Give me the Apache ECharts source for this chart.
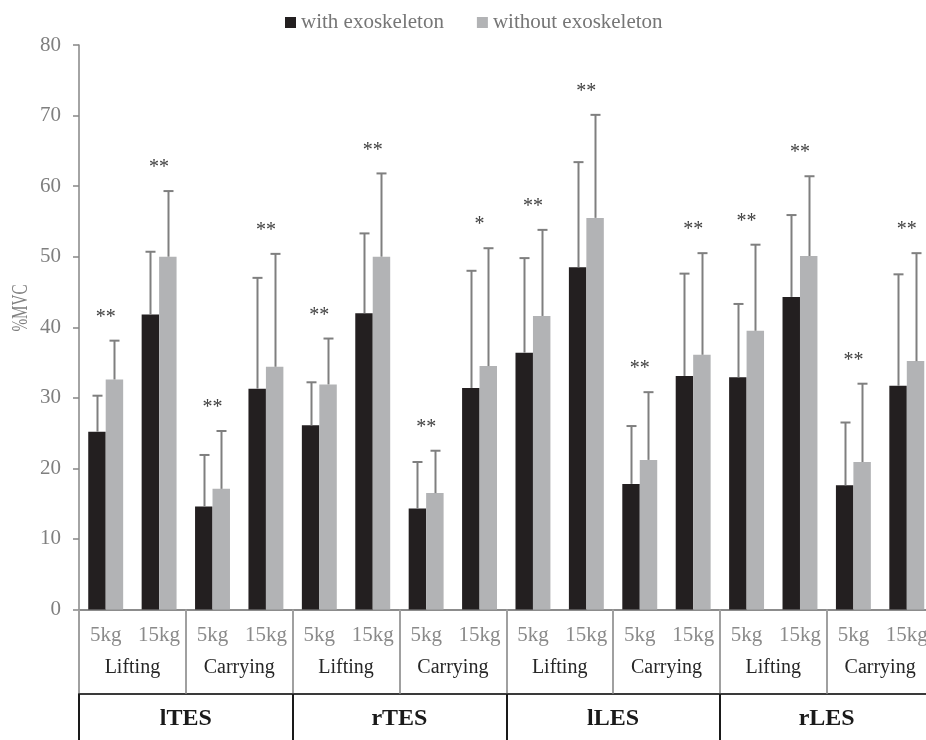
<!DOCTYPE html>
<html>
<head>
<meta charset="utf-8">
<title>%MVC with and without exoskeleton</title>
<script src="https://cdn.jsdelivr.net/npm/echarts@6/dist/echarts.min.js"></script>
<style>
  html, body { margin: 0; padding: 0; background: #fff; overflow: hidden; }
  /* the outer table border runs just past the right edge of the page */
  #chart { width: 945px; height: 740px; }
</style>
</head>
<body>
<div id="chart"></div>
<script>
// Load conditions (innermost axis level)
const loads = ['5kg', '15kg', '5kg', '15kg', '5kg', '15kg', '5kg', '15kg',
               '5kg', '15kg', '5kg', '15kg', '5kg', '15kg', '5kg', '15kg'];
// Tasks (middle axis level)
const tasks = ['Lifting', 'Carrying', 'Lifting', 'Carrying',
               'Lifting', 'Carrying', 'Lifting', 'Carrying'];
// Muscles (outer axis level)
const muscles = ['lTES', 'rTES', 'lLES', 'rLES'];

// Mean %MVC and standard deviation
const withExo     = [25.2, 41.8, 14.6, 31.3, 26.1, 42.0, 14.3, 31.4, 36.4, 48.5, 17.8, 33.1, 32.9, 44.3, 17.6, 31.7];
const withExoSD   = [5.1, 8.9, 7.3, 15.7, 6.1, 11.3, 6.6, 16.6, 13.4, 14.9, 8.2, 14.5, 10.4, 11.6, 8.9, 15.8];
const withoutExo  = [32.6, 50.0, 17.1, 34.4, 31.9, 50.0, 16.5, 34.5, 41.6, 55.5, 21.2, 36.1, 39.5, 50.1, 20.9, 35.2];
const withoutExoSD = [5.5, 9.3, 8.2, 16.0, 6.5, 11.8, 6.0, 16.7, 12.2, 14.6, 9.6, 14.4, 12.2, 11.3, 11.1, 15.3];

// Significance markers
const signif = ['**', '**', '**', '**', '**', '**', '**', '*',
                '**', '**', '**', '**', '**', '**', '**', '**'];

const yTicks = { min: 0, max: 80, step: 10 };

const FONT = '"Liberation Serif", "Times New Roman", serif';
const BAR_RATIO = 0.327;            // each bar's share of a category band
const COL_WITH = '#231f20';
const COL_WITHOUT = '#b2b3b5';
const ERR_COL = '#7f7f7f';

const chart = echarts.init(document.getElementById('chart'), null, { renderer: 'canvas' });

function renderErrors(params, api) {
  const i = api.value(0);
  const band = api.size([1, 0])[0];
  const half = band * BAR_RATIO / 2;
  const cx = api.coord([i, 0])[0];
  const children = [];
  const sets = [[withExo, withExoSD, -half], [withoutExo, withoutExoSD, half]];
  let highest = 0;
  sets.forEach(function (s) {
    const mean = s[0][i], sd = s[1][i];
    highest = Math.max(highest, mean + sd);
    const yBase = api.coord([i, mean])[1];
    const yTop = api.coord([i, mean + sd])[1];
    const x = Math.round(cx + s[2]) + 0.5;
    children.push({ type: 'line', shape: { x1: x, y1: yBase, x2: x, y2: yTop },
                    style: { stroke: ERR_COL, lineWidth: 2 } });
    children.push({ type: 'line', shape: { x1: x - 5, y1: yTop, x2: x + 5, y2: yTop },
                    style: { stroke: ERR_COL, lineWidth: 2 } });
  });
  const yStar = api.coord([i, highest])[1] - 23;
  children.push({ type: 'text', x: cx, y: yStar,
                  style: { text: signif[i], font: '20px ' + FONT, fill: '#404040',
                           align: 'center', verticalAlign: 'middle' } });
  return { type: 'group', children: children };
}

const option = {
  animation: false,
  backgroundColor: '#ffffff',
  textStyle: { fontFamily: FONT },
  legend: {
    left: 280, top: 7,
    itemWidth: 11, itemHeight: 11, itemGap: 33,
    icon: 'rect',
    textStyle: { fontFamily: FONT, fontSize: 21, color: '#767676' },
    data: ['with exoskeleton', 'without exoskeleton']
  },
  grid: { left: 79, top: 45, width: 854.5, bottom: 130.5, containLabel: false },
  graphic: [{
    type: 'text', x: 21, y: 308, rotation: Math.PI / 2, scaleX: 0.66,
    style: { text: '%MVC', font: '23px ' + FONT, fill: '#7f7f7f',
             align: 'center', verticalAlign: 'middle' }
  }],
  xAxis: [
    {
      type: 'category', data: loads, position: 'bottom',
      axisLine: { show: true, lineStyle: { color: '#8c8c8c', width: 2 } },
      axisTick: { show: false },
      axisLabel: { fontFamily: FONT, fontSize: 21, color: '#8a8a8a', margin: 15, interval: 0 }
    },
    {
      type: 'category', data: tasks, position: 'bottom', offset: 0,
      axisLine: { show: false },
      axisTick: { show: true, length: 84, lineStyle: { color: '#a0a0a0', width: 2 } },
      axisLabel: { fontFamily: FONT, fontSize: 20, color: '#262626', margin: 48, interval: 0 }
    },
    {
      type: 'category', data: muscles, position: 'bottom', offset: 84,
      axisLine: { show: true, lineStyle: { color: '#3a3a3a', width: 2 } },
      axisTick: { show: true, length: 47, lineStyle: { color: '#1a1a1a', width: 2 } },
      axisLabel: { fontFamily: FONT, fontSize: 24, fontWeight: 'bold', color: '#1a1a1a', margin: 13, interval: 0 }
    }
  ],
  yAxis: {
    type: 'value', min: yTicks.min, max: yTicks.max, interval: yTicks.step,
    axisLine: { show: true, lineStyle: { color: '#868686', width: 1.5 } },
    axisTick: { show: true, length: 6, lineStyle: { color: '#868686', width: 1.5 } },
    splitLine: { show: false },
    axisLabel: { fontFamily: FONT, fontSize: 21, color: '#7f7f7f', margin: 18 }
  },
  series: [
    {
      name: 'with exoskeleton', type: 'bar', xAxisIndex: 0,
      data: withExo, barWidth: (BAR_RATIO * 100) + '%', barGap: '0%',
      itemStyle: { color: COL_WITH }
    },
    {
      name: 'without exoskeleton', type: 'bar', xAxisIndex: 0,
      data: withoutExo, barWidth: (BAR_RATIO * 100) + '%', barGap: '0%',
      itemStyle: { color: COL_WITHOUT }
    },
    {
      type: 'custom', xAxisIndex: 0, renderItem: renderErrors,
      data: loads.map(function (_, i) { return [i]; }),
      encode: { x: 0 }, z: 5, silent: true
    }
  ]
};

chart.setOption(option);
</script>
</body>
</html>
